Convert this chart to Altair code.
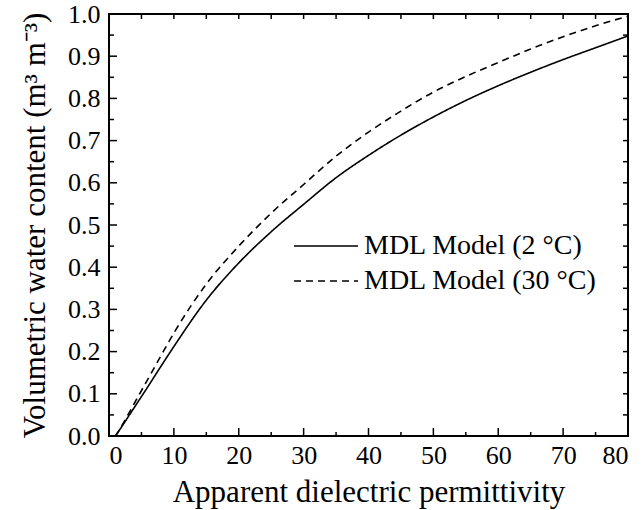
import altair as alt
import pandas as pd

# Data
eps = [1, 2, 4, 6, 8, 10, 15, 20, 25, 30, 35, 40, 45, 50, 55, 60, 65, 70, 75, 80]
theta_2C = [0.0, 0.023, 0.07, 0.117, 0.165, 0.212, 0.322, 0.41, 0.484, 0.549, 0.612,
            0.665, 0.713, 0.756, 0.795, 0.83, 0.862, 0.892, 0.92, 0.948]
theta_30C = [0.0, 0.025, 0.08, 0.135, 0.19, 0.244, 0.36, 0.45, 0.528, 0.596, 0.663,
             0.72, 0.77, 0.815, 0.852, 0.885, 0.917, 0.946, 0.972, 0.995]
series_names = ["MDL Model (2 °C)", "MDL Model (30 °C)"]

x_major = [0, 10, 20, 30, 40, 50, 60, 70, 80]
x_minor = [5, 15, 25, 35, 45, 55, 65, 75]
y_major = [round(0.1 * i, 1) for i in range(11)]
y_minor = [round(0.05 + 0.1 * i, 2) for i in range(10)]

W, H = 519, 422
FONT = "Liberation Serif"

rows = []
for e, a, b in zip(eps, theta_2C, theta_30C):
    rows.append({"eps": e, "theta": a, "series": series_names[0]})
    rows.append({"eps": e, "theta": b, "series": series_names[1]})
df = pd.DataFrame(rows)

xscale = alt.Scale(domain=[0, 80], nice=False, zero=False)
yscale = alt.Scale(domain=[0, 1.0], nice=False, zero=False)

xaxis = alt.Axis(values=x_major, ticks=False, domain=False, grid=False,
                 labelFont=FONT, labelFontSize=26, labelColor="black",
                 labelPadding=6, title="Apparent dielectric permittivity",
                 titleFont=FONT, titleFontSize=31, titleFontWeight="normal",
                 titleColor="black", titlePadding=9)
yaxis = alt.Axis(values=y_major, format=".1f", ticks=False, domain=False, grid=False,
                 labelFont=FONT, labelFontSize=26, labelColor="black",
                 labelPadding=9, title="Volumetric water content (m³ m⁻³)",
                 titleFont=FONT, titleFontSize=31, titleFontWeight="normal",
                 titleColor="black", titlePadding=16)

lines = alt.Chart(df).mark_line(strokeWidth=1.6, color="black", interpolate="monotone").encode(
    x=alt.X("eps:Q", scale=xscale, axis=xaxis),
    y=alt.Y("theta:Q", scale=yscale, axis=yaxis),
    strokeDash=alt.StrokeDash("series:N",
                              scale=alt.Scale(domain=series_names, range=[[1, 0], [7, 5]]),
                              legend=alt.Legend(title=None, orient="none", legendX=196, legendY=211,
                                                symbolType="M-1.6,0H1.6", symbolSize=1600,
                                                symbolStrokeWidth=1.6, symbolStrokeColor="black",
                                                labelFont=FONT, labelFontSize=28, labelColor="black",
                                                labelOffset=17, labelLimit=400, rowPadding=0)),
    order="eps:Q",
)

def tick_rules(values, axis, p0, p1):
    if axis == "x":
        d = pd.DataFrame({"eps": values})
        return alt.Chart(d).mark_rule(color="black", strokeWidth=1.5).encode(
            x=alt.X("eps:Q", scale=xscale, axis=xaxis), y=alt.value(p0), y2=alt.value(p1))
    d = pd.DataFrame({"theta": values})
    return alt.Chart(d).mark_rule(color="black", strokeWidth=1.5).encode(
        y=alt.Y("theta:Q", scale=yscale, axis=yaxis), x=alt.value(p0), x2=alt.value(p1))

ticks = [
    tick_rules(x_major, "x", H, H - 8),
    tick_rules(x_minor, "x", H, H - 4),
    tick_rules(x_major[1:-1] + x_minor, "x", 0, 5),
    tick_rules(y_major, "y", 0, 8),
    tick_rules(y_minor, "y", 0, 5),
    tick_rules(y_major[1:-1] + y_minor, "y", W, W - 5),
]

chart = alt.layer(lines, *ticks).properties(
    width=W, height=H,
    autosize=alt.AutoSizeParams(type="none"),
    padding={"left": 109, "top": 14, "right": 14, "bottom": 74},
).configure(background="white").configure_view(stroke="black", strokeWidth=2)

chart.save("out.html", embed_options={"renderer": "svg", "actions": False})
